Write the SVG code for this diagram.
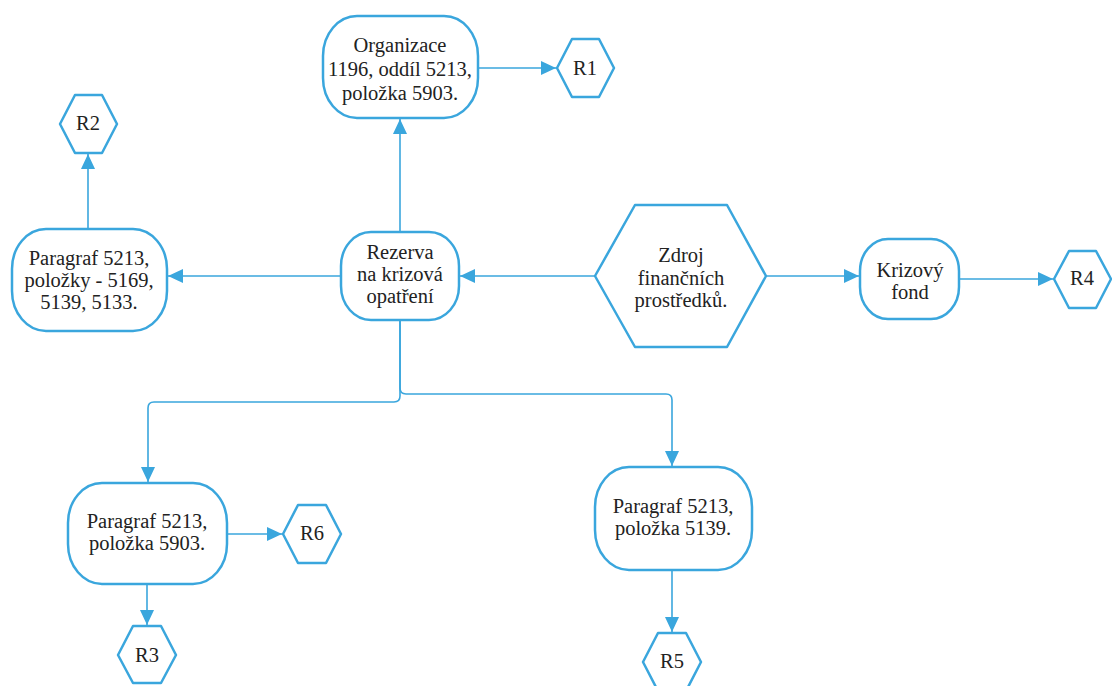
<svg xmlns="http://www.w3.org/2000/svg" width="1112" height="686" viewBox="0 0 1112 686">
<defs>
<style>
.n{fill:#fff;stroke:#3aa6dd;stroke-width:2.5;stroke-linejoin:round}
.c{fill:none;stroke:#3aa6dd;stroke-width:1.6}
.t{font-family:'Liberation Serif','Times New Roman','DejaVu Serif',serif;font-size:20.5px;fill:#222;text-anchor:middle}
</style>
<marker id="a" markerUnits="userSpaceOnUse" markerWidth="16" markerHeight="14" refX="15" refY="7" orient="auto">
<path d="M0,0 L15,7 L0,14 Z" fill="#3aa6dd"/>
</marker>
</defs>
<rect width="1112" height="686" fill="#fff"/>
<g id="connectors">
<path class="c" d="M478,68 H556" marker-end="url(#a)"/>
<path class="c" d="M400,232 V119" marker-end="url(#a)"/>
<path class="c" d="M341,276 H168" marker-end="url(#a)"/>
<path class="c" d="M88,229 V154" marker-end="url(#a)"/>
<path class="c" d="M595,276 H460" marker-end="url(#a)"/>
<path class="c" d="M766,276 H859" marker-end="url(#a)"/>
<path class="c" d="M959,279 H1053" marker-end="url(#a)"/>
<path class="c" d="M400,320 V388 Q400,394 406,394 H666 Q672,394 672,400 V466" marker-end="url(#a)"/>
<path class="c" d="M400,320 V396 Q400,402 394,402 H154 Q148,402 148,408 V482" marker-end="url(#a)"/>
<path class="c" d="M227,534 H282" marker-end="url(#a)"/>
<path class="c" d="M147,584 V625" marker-end="url(#a)"/>
<path class="c" d="M672,570 V632" marker-end="url(#a)"/>
</g>
<g class="t" font-family="Liberation Serif, serif">
<g id="organizace">
<rect class="n" x="323" y="16" width="155" height="102" rx="34" ry="40"/>
<text x="400" y="52">Organizace</text>
<text x="400" y="76">1196, oddíl 5213,</text>
<text x="400" y="100">položka 5903.</text>
</g>
<g id="r1">
<polygon class="n" points="557,68 572,39 599,39 614,68 599,97 572,97"/>
<text x="585" y="75">R1</text>
</g>
<g id="r2">
<polygon class="n" points="60,124 75,95 102,95 117,124 102,153 75,153"/>
<text x="88" y="130">R2</text>
</g>
<g id="paragraf-left">
<rect class="n" x="12" y="229" width="155" height="102" rx="34" ry="40"/>
<text x="89" y="265">Paragraf 5213,</text>
<text x="89" y="287">položky - 5169,</text>
<text x="89" y="309">5139, 5133.</text>
</g>
<g id="rezerva">
<rect class="n" x="341" y="232" width="118" height="88" rx="30" ry="34"/>
<text x="400" y="259">Rezerva</text>
<text x="400" y="281">na krizová</text>
<text x="400" y="303">opatření</text>
</g>
<g id="zdroj">
<polygon class="n" points="595,276 635,205 727,205 766,276 727,347 635,347"/>
<text x="681" y="262">Zdroj</text>
<text x="681" y="285">finančních</text>
<text x="681" y="307">prostředků.</text>
</g>
<g id="krizovy-fond">
<rect class="n" x="860" y="239" width="99" height="80" rx="28" ry="32"/>
<text x="910" y="277">Krizový</text>
<text x="910" y="299">fond</text>
</g>
<g id="r4">
<polygon class="n" points="1054,279 1069,251 1096,251 1111,279 1096,308 1069,308"/>
<text x="1082" y="285">R4</text>
</g>
<g id="paragraf-5903">
<rect class="n" x="68" y="483" width="159" height="101" rx="34" ry="40"/>
<text x="147" y="528">Paragraf 5213,</text>
<text x="147" y="550">položka 5903.</text>
</g>
<g id="r6">
<polygon class="n" points="283,534 298,505 326,505 341,534 326,563 298,563"/>
<text x="312" y="540">R6</text>
</g>
<g id="r3">
<polygon class="n" points="118,655 133,626 161,626 176,655 161,683 133,683"/>
<text x="147" y="662">R3</text>
</g>
<g id="paragraf-5139">
<rect class="n" x="595" y="467" width="157" height="103" rx="34" ry="40"/>
<text x="673" y="513">Paragraf 5213,</text>
<text x="673" y="535">položka 5139.</text>
</g>
<g id="r5">
<polygon class="n" points="643,662 658,633 686,633 701,662 686,691 658,691"/>
<text x="672" y="668">R5</text>
</g>
</g>
</svg>
